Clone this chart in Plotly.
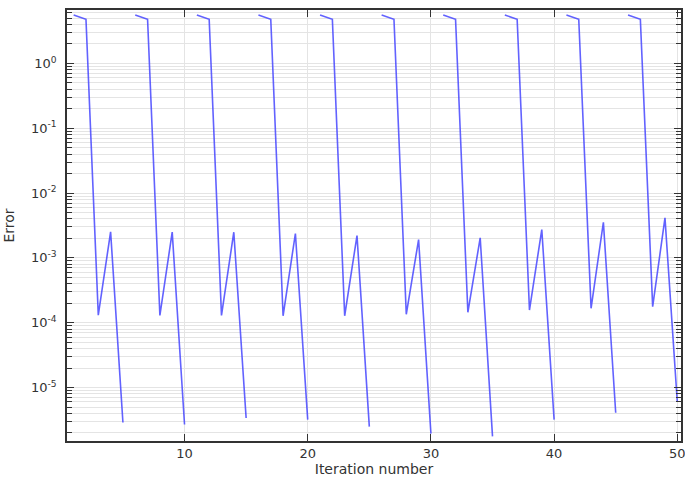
import plotly.graph_objects as go

# ── Data ──────────────────────────────────────────────────────
ITERATION = list(range(1, 51))
ERROR = [
    5.6, 4.8, 1.31e-4, 2.52e-3, 2.9e-6,
    5.6, 4.8, 1.30e-4, 2.50e-3, 2.7e-6,
    5.6, 4.8, 1.30e-4, 2.49e-3, 3.4e-6,
    5.6, 4.8, 1.28e-4, 2.38e-3, 3.2e-6,
    5.6, 4.8, 1.28e-4, 2.21e-3, 2.5e-6,
    5.6, 4.8, 1.35e-4, 1.92e-3, 1.95e-6,
    5.6, 4.8, 1.45e-4, 2.04e-3, 1.77e-6,
    5.6, 4.8, 1.57e-4, 2.74e-3, 3.2e-6,
    5.6, 4.8, 1.67e-4, 3.55e-3, 4.1e-6,
    5.6, 4.8, 1.77e-4, 4.15e-3, 6.0e-6,
]
CYCLE = 5  # solver restarts every 5 iterations

Y_TICKS = [1e-5, 1e-4, 1e-3, 1e-2, 1e-1, 1]
Y_TEXT = ["10<sup>-5</sup>", "10<sup>-4</sup>", "10<sup>-3</sup>",
          "10<sup>-2</sup>", "10<sup>-1</sup>", "10<sup>0</sup>"]
X_TICKS = [10, 20, 30, 40, 50]

# break the line between cycles
xs, ys = [], []
for i in range(0, len(ITERATION), CYCLE):
    xs += ITERATION[i:i + CYCLE] + [None]
    ys += ERROR[i:i + CYCLE] + [None]

minor_vals = [m * 10 ** e for e in range(-6, 1) for m in range(2, 10)]

AX = "#333333"
GRID = "#e4e4e4"
FONT = dict(family="DejaVu Sans, sans-serif", size=13, color="#333333")

fig = go.Figure(go.Scatter(
    x=xs, y=ys, mode="lines", connectgaps=False,
    line=dict(color="rgba(70,70,255,0.85)", width=1.6),
    hoverinfo="skip"))

fig.update_xaxes(
    range=[0.46, 50.3], tickvals=X_TICKS, ticks="inside", ticklen=7,
    tickcolor=AX, showline=True, linecolor=AX, linewidth=1.5, mirror="ticks",
    showgrid=True, gridcolor=GRID, gridwidth=1, zeroline=False,
    ticklabeloverflow="allow",
    title=dict(text="Iteration number", standoff=3, font=dict(size=14)))
fig.update_yaxes(
    type="log", range=[-5.824, 0.824], tickvals=Y_TICKS, ticktext=Y_TEXT,
    ticks="inside", ticklen=7, tickcolor=AX, showline=True, linecolor=AX,
    linewidth=1.5, mirror="ticks", showgrid=True, gridcolor=GRID, gridwidth=1,
    zeroline=False, ticklabelstandoff=6,
    minor=dict(tickvals=minor_vals, ticks="inside", ticklen=5, tickcolor=AX,
               showgrid=True, gridcolor=GRID),
    title=dict(text="Error", standoff=13, font=dict(size=14)))

fig.update_layout(
    width=685, height=481, paper_bgcolor="white", plot_bgcolor="white",
    font=FONT, showlegend=False,
    margin=dict(l=67, r=4, t=10, b=40, autoexpand=False))

fig.write_html("out.html", config={"displayModeBar": False},
               post_script="document.body.style.margin='0';")
